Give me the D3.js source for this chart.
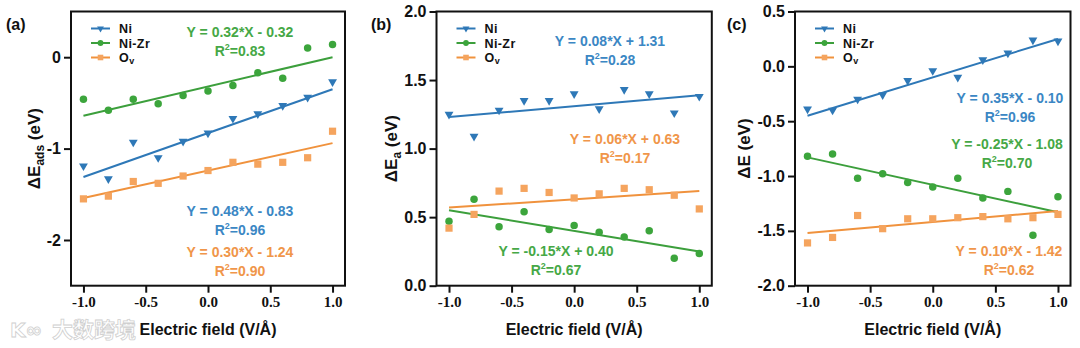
<!DOCTYPE html>
<html>
<head>
<meta charset="utf-8">
<script src="https://cdn.jsdelivr.net/npm/d3@7"></script>
<style>
    body { margin: 0; background: #fff; }
    svg { display: block; }
</style>
</head>
<body>
<script>
// electric field values shared by all panels
const fieldValues = [-1.0, -0.8, -0.6, -0.4, -0.2, 0.0, 0.2, 0.4, 0.6, 0.8, 1.0];
const seriesNames = ['Ni', 'Ni-Zr', 'Ov'];

// (a) adsorption energy
const adsNi = [-1.19, -1.33, -0.93, -1.10, -0.92, -0.83, -0.67, -0.62, -0.53, -0.44, -0.27];
const adsNiZr = [-0.46, -0.58, -0.46, -0.51, -0.42, -0.37, -0.31, -0.17, -0.23, 0.10, 0.14];
const adsOv = [-1.55, -1.52, -1.36, -1.38, -1.30, -1.24, -1.15, -1.17, -1.15, -1.10, -0.81];
const adsSlopes = [0.48, 0.32, 0.30];
const adsIntercepts = [-0.83, -0.32, -1.24];
const adsEquations = ['Y = 0.48*X - 0.83', 'Y = 0.32*X - 0.32', 'Y = 0.30*X - 1.24'];
const adsR2 = ['0.96', '0.83', '0.90'];

// (b) activation energy
const actNi = [1.25, 1.09, 1.28, 1.35, 1.35, 1.40, 1.29, 1.43, 1.40, 1.26, 1.38];
const actNiZr = [0.47, 0.63, 0.43, 0.54, 0.41, 0.44, 0.39, 0.355, 0.40, 0.20, 0.235];
const actOv = [0.42, 0.52, 0.69, 0.71, 0.68, 0.64, 0.67, 0.71, 0.70, 0.66, 0.56];
const actSlopes = [0.08, -0.15, 0.06];
const actIntercepts = [1.31, 0.40, 0.63];
const actEquations = ['Y = 0.08*X + 1.31', 'Y = -0.15*X + 0.40', 'Y = 0.06*X + 0.63'];
const actR2 = ['0.28', '0.67', '0.17'];

// (c) reaction energy
const rxnNi = [-0.39, -0.40, -0.30, -0.26, -0.13, -0.04, -0.10, 0.06, 0.12, 0.24, 0.23];
const rxnNiZr = [-0.82, -0.80, -1.02, -0.98, -1.06, -1.10, -1.02, -1.20, -1.14, -1.54, -1.19];
const rxnOv = [-1.61, -1.56, -1.36, -1.48, -1.39, -1.39, -1.38, -1.37, -1.39, -1.38, -1.35];
const rxnSlopes = [0.35, -0.25, 0.10];
const rxnIntercepts = [-0.10, -1.08, -1.42];
const rxnEquations = ['Y = 0.35*X - 0.10', 'Y = -0.25*X - 1.08', 'Y = 0.10*X - 1.42'];
const rxnR2 = ['0.96', '0.70', '0.62'];

const lineColors = ['#2e78b7', '#3c9f3c', '#f0923d'];
const markColors = ['#2e78b7', '#3ca53c', '#f5a45e'];
const textColors = ['#3b87c4', '#46a846', '#f0964a'];
const markSymbols = [d3.symbolTriangle, d3.symbolCircle, d3.symbolSquare];
const markSizes = [34, 44, 52];

const sans = 'Liberation Sans, Arial, sans-serif';
const serif = 'Liberation Serif, Times New Roman, serif';

const svg = d3.select('body')
    .append('svg')
    .attr('width', 1080)
    .attr('height', 348);

const plotTop = 11.5;
const plotBottom = 285.7;

const panels = [
    {
        tag: '(a)', tagX: 6, left: 71, right: 345,
        yDomain: [-2.5, 0.5], yTicks: [0, -1, -2], yDigits: 0,
        yLabel: ['ΔE', 'ads', ' (eV)'], yLabelX: 40,
        series: [adsNi, adsNiZr, adsOv],
        slopes: adsSlopes, intercepts: adsIntercepts,
        equations: adsEquations, r2: adsR2,
        eqPos: [[240, 216], [240, 37], [240, 257]]
    },
    {
        tag: '(b)', tagX: 371, left: 436.5, right: 711.8,
        yDomain: [0, 2], yTicks: [0, 0.5, 1, 1.5, 2], yDigits: 1,
        yLabel: ['ΔE', 'a', ' (eV)'], yLabelX: 397,
        series: [actNi, actNiZr, actOv],
        slopes: actSlopes, intercepts: actIntercepts,
        equations: actEquations, r2: actR2,
        eqPos: [[610, 46], [556, 256], [625, 143.5]]
    },
    {
        tag: '(c)', tagX: 727, left: 795, right: 1070.5,
        yDomain: [-2, 0.5], yTicks: [0.5, 0, -0.5, -1, -1.5, -2], yDigits: 1,
        yLabel: ['ΔE', '', ' (eV)'], yLabelX: 750,
        series: [rxnNi, rxnNiZr, rxnOv],
        slopes: rxnSlopes, intercepts: rxnIntercepts,
        equations: rxnEquations, r2: rxnR2,
        eqPos: [[1010, 102.5], [1007, 149], [1009, 256]]
    }
];

function symbolPath(i, scale) {
    return d3.symbol().type(markSymbols[i]).size(markSizes[i] * scale)();
}

panels.forEach(function(p) {
    const g = svg.append('g');

    const xScale = d3.scaleLinear().domain([-1.1, 1.1]).range([p.left, p.right]);
    const yScale = d3.scaleLinear().domain(p.yDomain).range([plotBottom, plotTop]);

    // axes
    const xAxis = g.append('g')
        .attr('transform', `translate(0,${plotBottom})`)
        .call(d3.axisBottom(xScale)
            .tickValues([-1, -0.5, 0, 0.5, 1])
            .tickFormat(d => d.toFixed(1))
            .tickSize(7).tickSizeOuter(0).tickPadding(4));
    xAxis.selectAll('text')
        .style('font-family', serif)
        .style('font-weight', 'bold')
        .style('font-size', '15px')
        .style('fill', '#111');

    const yAxis = g.append('g')
        .attr('transform', `translate(${p.left},0)`)
        .call(d3.axisLeft(yScale)
            .tickValues(p.yTicks)
            .tickFormat(d => d.toFixed(p.yDigits))
            .tickSize(7).tickSizeOuter(0).tickPadding(3));
    yAxis.selectAll('text')
        .style('font-family', sans)
        .style('font-weight', 'bold')
        .style('font-size', '16px')
        .style('fill', '#111');

    g.selectAll('.tick line').attr('stroke', '#111').attr('stroke-width', 2);
    g.selectAll('.domain').remove();

    // frame
    g.append('rect')
        .attr('x', p.left)
        .attr('y', plotTop)
        .attr('width', p.right - p.left)
        .attr('height', plotBottom - plotTop)
        .attr('fill', 'none')
        .attr('stroke', '#111')
        .attr('stroke-width', 2);

    // fitted lines
    p.series.forEach(function(vals, i) {
        g.append('line')
            .attr('x1', xScale(-1))
            .attr('x2', xScale(1))
            .attr('y1', yScale(p.slopes[i] * -1 + p.intercepts[i]))
            .attr('y2', yScale(p.slopes[i] * 1 + p.intercepts[i]))
            .attr('stroke', lineColors[i])
            .attr('stroke-width', 2);
    });

    // points
    p.series.forEach(function(vals, i) {
        g.append('g')
            .selectAll('path')
            .data(vals)
            .enter()
            .append('path')
            .attr('d', symbolPath(i, 1))
            .attr('transform', function(d, j) {
                const rot = i === 0 ? ' rotate(180)' : '';
                return `translate(${xScale(fieldValues[j])},${yScale(d)})` + rot;
            })
            .attr('fill', markColors[i]);
    });

    // legend
    const legend = g.append('g').attr('transform', `translate(${p.left},0)`);
    seriesNames.forEach(function(name, i) {
        const cy = 28.5 + i * 14.5;
        legend.append('line')
            .attr('x1', 20).attr('x2', 39)
            .attr('y1', cy).attr('y2', cy)
            .attr('stroke', lineColors[i])
            .attr('stroke-width', 2);
        legend.append('path')
            .attr('d', symbolPath(i, 0.6))
            .attr('transform', `translate(29.5,${cy})` + (i === 0 ? ' rotate(180)' : ''))
            .attr('fill', markColors[i]);
        const t = legend.append('text')
            .attr('x', 48)
            .attr('y', cy + 4.5)
            .style('font-family', sans)
            .style('font-weight', 'bold')
            .style('font-size', '12.5px')
            .style('letter-spacing', '0.4px')
            .style('fill', '#111');
        if (name === 'Ov') {
            t.append('tspan').text('O');
            t.append('tspan').attr('dy', 2).style('font-size', '9px').text('v');
        } else {
            t.text(name);
        }
    });

    // equations
    p.equations.forEach(function(eq, i) {
        const pos = p.eqPos[i];
        g.append('text')
            .attr('x', pos[0])
            .attr('y', pos[1])
            .attr('text-anchor', 'middle')
            .style('font-family', sans)
            .style('font-weight', 'bold')
            .style('font-size', '14px')
            .style('fill', textColors[i])
            .text(eq);
        const r = g.append('text')
            .attr('x', pos[0])
            .attr('y', pos[1] + 19)
            .attr('text-anchor', 'middle')
            .style('font-family', sans)
            .style('font-weight', 'bold')
            .style('font-size', '14px')
            .style('fill', textColors[i]);
        r.append('tspan').text('R');
        r.append('tspan').attr('dy', -6).style('font-size', '9px').text('2');
        r.append('tspan').attr('dy', 6).text('=' + p.r2[i]);
    });

    // axis titles
    g.append('text')
        .attr('x', (p.left + p.right) / 2)
        .attr('y', 335)
        .attr('text-anchor', 'middle')
        .style('font-family', sans)
        .style('font-weight', 'bold')
        .style('font-size', '16px')
        .style('fill', '#111')
        .text('Electric field (V/Å)');

    const yt = g.append('text')
        .attr('transform', `translate(${p.yLabelX},${(plotTop + plotBottom) / 2}) rotate(-90)`)
        .attr('text-anchor', 'middle')
        .style('font-family', sans)
        .style('font-weight', 'bold')
        .style('font-size', '17px')
        .style('fill', '#111');
    yt.append('tspan').text(p.yLabel[0]);
    if (p.yLabel[1]) {
        yt.append('tspan').attr('dy', 4).style('font-size', '12px').text(p.yLabel[1]);
        yt.append('tspan').attr('dy', -4).text(p.yLabel[2]);
    } else {
        yt.append('tspan').text(p.yLabel[2]);
    }

    // panel tag
    svg.append('text')
        .attr('x', p.tagX)
        .attr('y', 30)
        .style('font-family', sans)
        .style('font-weight', 'bold')
        .style('font-size', '16px')
        .style('fill', '#111')
        .text(p.tag);
});

// watermark
const wm = svg.append('g').attr('opacity', 0.8);
wm.append('text')
    .attr('x', 10)
    .attr('y', 337)
    .style('font-family', 'DejaVu Sans, sans-serif')
    .style('font-weight', 'bold')
    .style('font-size', '20px')
    .style('fill', '#fff')
    .style('stroke', '#c4c4c4')
    .style('stroke-width', 0.8)
    .text('K∞');
wm.append('text')
    .attr('x', 52)
    .attr('y', 337)
    .style('font-family', 'Noto Sans CJK SC, sans-serif')
    .style('font-weight', 'bold')
    .style('font-size', '21px')
    .style('fill', '#fff')
    .style('stroke', '#c4c4c4')
    .style('stroke-width', 0.8)
    .text('大数跨境');
</script>
</body>
</html>
